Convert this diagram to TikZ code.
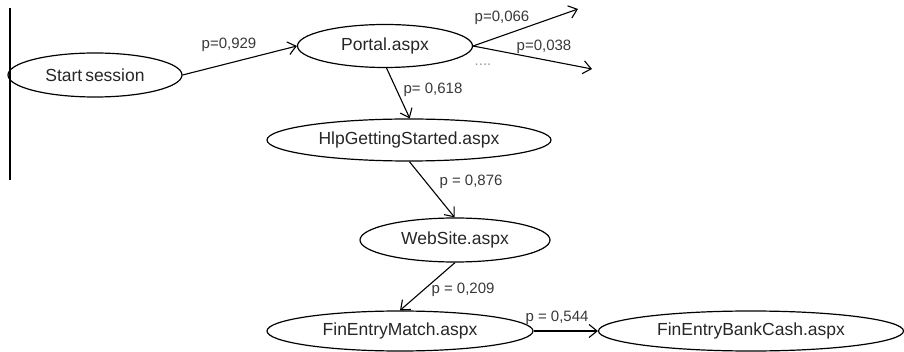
\documentclass[tikz,border=0pt]{standalone}
\usepackage{fontspec}
\setmainfont{Liberation Sans}
\usetikzlibrary{shapes.geometric,arrows.meta}
\definecolor{txt}{HTML}{262626}
\definecolor{lbl}{HTML}{383838}
\tikzset{
  page/.style={ellipse, draw=black, line width=1.2pt, inner sep=0pt, text=txt,
    font=\fontsize{17.5}{20}\selectfont},
  lab/.style={inner sep=0pt, text=lbl, font=\fontsize{15}{18}\selectfont},
  conn/.style={line width=1.1pt, -{Straight Barb[length=8pt,width=13pt,line width=1.1pt]}}
}
\begin{document}
\begin{tikzpicture}[x=1pt,y=-1pt]
\useasboundingbox (0,0) rectangle (904,352);
\draw[line width=1.2pt] (10,8) coordinate (vtop) -- (10,180) coordinate (vbot);

\node[page, minimum width=174pt, minimum height=44pt] (start) at (95,75) {Start\,session};
\node[page, minimum width=175pt, minimum height=43pt] (portal) at (385,46) {Portal.aspx};
\node[page, minimum width=284pt, minimum height=42pt] (hlp) at (409,140) {HlpGettingStarted.aspx};
\node[page, minimum width=190pt, minimum height=44pt] (web) at (455,240) {WebSite.aspx};
\node[page, minimum width=266pt, minimum height=40pt] (match) at (400,331) {FinEntryMatch.aspx};
\node[page, minimum width=305pt, minimum height=40pt] (bank) at (751,331) {FinEntryBankCash.aspx};

\coordinate (o1) at (578,9);
\coordinate (o2) at (592,69);

\draw[conn] (start.east) -- (portal.west);
\draw[conn] (portal.east) -- (o1);
\draw[conn] (portal.east) -- (o2);
\draw[conn] (portal.-86) -- (hlp.88);
\draw[conn] (hlp.-89) -- (web.91);
\draw[conn] (web.-90) -- (match.90);
\draw[conn] (match.east) -- (bank.west);

\node[lab] (l1) at (229,45) {p=0,929};
\node[lab] (l2) at (502,18) {p=0,066};
\node[lab] (l3) at (544,47) {p=0,038};
\node[inner sep=0pt, text=gray!80, font=\fontsize{15}{16}\selectfont] (dots) at (483,65) {....};
\node[lab] (l4) at (433,90) {p= 0,618};
\node[lab] (l5) at (471,182) {p = 0,876};
\node[lab] (l6) at (463,290) {p = 0,209};
\node[lab] (l7) at (557,318) {p = 0,544};
\end{tikzpicture}
\end{document}
